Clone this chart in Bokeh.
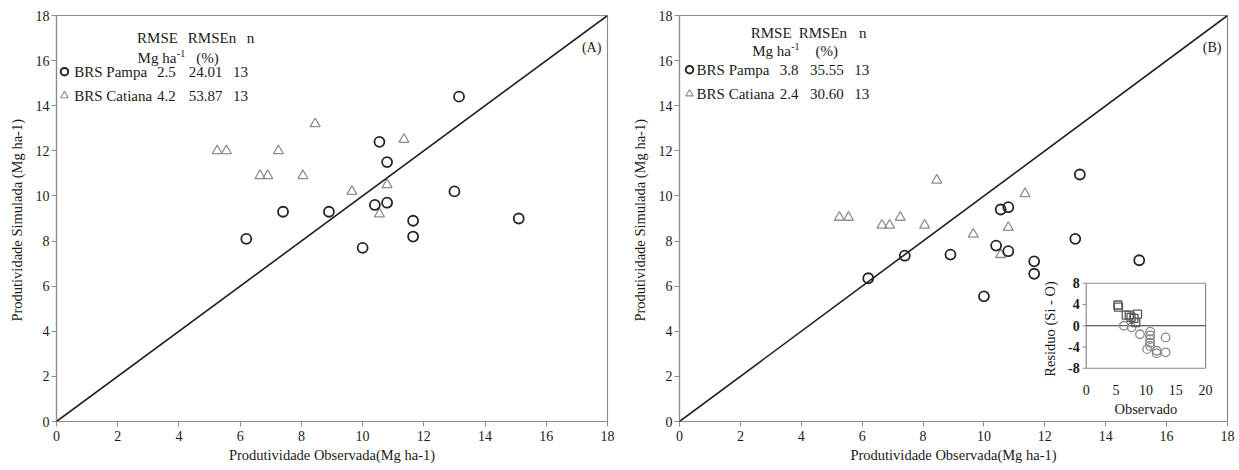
import math
from bokeh.plotting import figure
from bokeh.models import Range1d, FixedTicker, Label, Slope
from bokeh.layouts import row
from bokeh.core.properties import value
from bokeh.embed import file_html
from bokeh.resources import INLINE

# ---------------- data ----------------
axis_ticks = [0, 2, 4, 6, 8, 10, 12, 14, 16, 18]

pampa_obs = [6.2, 7.4, 8.9, 10.0, 10.4, 10.55, 10.8, 10.8, 11.65, 11.65, 13.0, 13.15, 15.1]
pampa_sim_a = [8.1, 9.3, 9.3, 7.7, 9.6, 12.4, 11.5, 9.7, 8.9, 8.2, 10.2, 14.4, 9.0]
pampa_sim_b = [6.35, 7.35, 7.4, 5.55, 7.8, 9.4, 9.5, 7.55, 7.1, 6.55, 8.1, 10.95, 7.15]

catiana_obs = [5.25, 5.55, 6.65, 6.9, 7.25, 8.05, 8.45, 9.65, 10.55, 10.8, 11.35]
catiana_sim_a = [12.0, 12.0, 10.9, 10.9, 12.0, 10.9, 13.2, 10.2, 9.2, 10.5, 12.5]
catiana_sim_b = [9.05, 9.05, 8.7, 8.7, 9.05, 8.7, 10.7, 8.3, 7.4, 8.6, 10.1]

# inset: residuals (Si - O) vs observed
res_obs_pam = [6.3, 7.6, 9.0, 10.2, 10.7, 10.7, 10.7, 10.7, 10.7, 11.8, 11.8, 13.3, 13.3]
res_pam = [0.0, -0.3, -1.6, -4.4, -1.1, -1.8, -2.5, -3.2, -3.8, -4.7, -5.2, -2.2, -5.0]
res_obs_cat = [5.3, 5.4, 6.7, 7.2, 7.5, 8.0, 8.6, 8.3]
res_cat = [3.9, 3.5, 2.0, 2.0, 1.6, 1.4, 2.2, 0.6]
inset_xticks = [0, 5, 10, 15, 20]
inset_yticks = [-8, -4, 0, 4, 8]

stats_a = {"BRS Pampa": ["2.5", "24.01", "13"], "BRS Catiana": ["4.2", "53.87", "13"]}
stats_b = {"BRS Pampa": ["3.8", "35.55", "13"], "BRS Catiana": ["2.4", "30.60", "13"]}

# ---------------- styles ----------------
FONT = "Liberation Serif"
TXT = "#1a1a1a"
AXC = "#8c8c8c"
CIRC = "#262626"
TRI = "#8f8f8f"
H = 468


def make_panel(width, left, right, sim_p, sim_c, tag, stats, lay):
    p = figure(width=width, height=H, output_backend="svg", toolbar_location=None,
               x_range=Range1d(0, 18), y_range=Range1d(0, 18),
               min_border_left=left, min_border_right=right,
               min_border_top=15, min_border_bottom=H - 421)
    p.background_fill_color = "white"
    p.border_fill_color = "white"
    p.outline_line_color = AXC
    p.outline_line_width = 1.2
    p.grid.visible = False
    for ax in (p.xaxis[0], p.yaxis[0]):
        ax.ticker = FixedTicker(ticks=axis_ticks)
        ax.axis_line_color = AXC
        ax.axis_line_width = 1.2
        ax.major_tick_line_color = AXC
        ax.major_tick_out = 5
        ax.major_tick_in = 0
        ax.minor_tick_line_color = None
        ax.major_label_text_font = FONT
        ax.major_label_text_font_size = "14px"
        ax.major_label_text_color = TXT
        ax.axis_label_text_font = FONT
        ax.axis_label_text_font_size = "14.5px"
        ax.axis_label_text_font_style = "normal"
        ax.axis_label_text_color = TXT
    p.xaxis.major_label_standoff = 4
    p.yaxis.major_label_standoff = 2
    p.xaxis.axis_label = "Produtividade Observada(Mg ha-1)"
    p.yaxis.axis_label = "Produtividade Simulada  (Mg ha-1)"
    p.xaxis.axis_label_standoff = 3
    p.yaxis.axis_label_standoff = 8

    p.add_layout(Slope(gradient=1, y_intercept=0, line_color="#1f1f1f", line_width=1.6))

    p.scatter(catiana_obs, sim_c, marker="triangle", size=10, fill_color=None,
              line_color=TRI, line_width=1.3)
    p.scatter(pampa_obs, sim_p, marker="circle", size=10, fill_color=None,
              line_color=CIRC, line_width=1.8)

    def lab(x, y, t, align="center", size="15px", color=TXT):
        p.add_layout(Label(x=x, y=y, text=t, text_align=align, text_baseline="middle",
                           text_font=FONT, text_font_size=size, text_color=color))

    # panel tag
    lab(17.8, lay["tag_y"], tag, align="right", size="14px")
    # legend header
    lab(lay["c1"], lay["h1"], "RMSE")
    lab(lay["c2"], lay["h1"], "RMSEn")
    lab(lay["c3h"], lay["h1"], "n")
    lab(lay["mg_x"], lay["h2"], "Mg ha", align="left")
    lab(lay["sup_x"], lay["h2"] + 0.2, "-1", align="left", size="10px")
    lab(lay["c2p"], lay["h2"], "(%)")
    # legend rows
    for name, yy, mk, col, lw in (("BRS Pampa", lay["r1"], "circle", CIRC, 2.0),
                                  ("BRS Catiana", lay["r2"], "triangle", TRI, 1.2)):
        p.scatter([lay["mx"]], [yy], marker=mk, size=7.5, fill_color=None,
                  line_color=col, line_width=lw)
        lab(lay["tx"], yy, name, align="left")
        v = stats[name]
        lab(lay["c1v"], yy, v[0])
        lab(lay["c2v"], yy, v[1])
        lab(lay["c3"], yy, v[2])
    return p


lay_a = dict(tag_y=16.6, c1=3.30, c2=5.08, c3h=6.34, mg_x=2.65, sup_x=3.93, c2p=4.93,
             h1=17.02, h2=16.13, r1=15.51, r2=14.45, mx=0.26, tx=0.58,
             c1v=3.59, c2v=4.87, c3=6.01)
lay_b = dict(tag_y=16.6, c1=3.01, c2=4.71, c3h=6.02, mg_x=2.39, sup_x=3.67, c2p=4.84,
             h1=17.24, h2=16.44, r1=15.6, r2=14.53, mx=0.33, tx=0.56,
             c1v=3.60, c2v=4.84, c3=5.99)

pA = make_panel(628, 56, 21, pampa_sim_a, catiana_sim_a, "(A)", stats_a, lay_a)
pB = make_panel(610, 49, 11, pampa_sim_b, catiana_sim_b, "(B)", stats_b, lay_b)

# ---------------- inset in panel B ----------------
sub = pB.subplot(x_source=Range1d(0, 20), y_source=Range1d(-8, 8),
                 x_target=Range1d(13.36, 17.28), y_target=Range1d(2.36, 6.13))
sub.quad(left=[0], right=[20], bottom=[-8], top=[8], fill_color="white",
         line_color=AXC, line_width=1.2)
sub.segment(x0=[0], y0=[0], x1=[20], y1=[0], line_color="#333333", line_width=1.2)
sub.segment(x0=[-0.6] * len(inset_yticks), y0=inset_yticks, x1=[0] * len(inset_yticks),
            y1=inset_yticks, line_color=AXC, line_width=1.2)
sub.scatter(res_obs_pam, res_pam, marker="circle", size=8.5, fill_color=None,
            line_color="#8a8a8a", line_width=1.3)
sub.scatter(res_obs_cat, res_cat, marker="square", size=8, fill_color=None,
            line_color="#5a5a5a", line_width=1.3)
sub.text(x=[-1.1] * len(inset_yticks), y=inset_yticks, text=[str(t) for t in inset_yticks],
         text_align="right", text_baseline="middle", text_font=value(FONT),
         text_font_size="14px", text_color=TXT, text_font_style="bold")
sub.text(x=inset_xticks, y=[-12.0] * len(inset_xticks), text=[str(t) for t in inset_xticks],
         text_align="center", text_baseline="middle", text_font=value(FONT),
         text_font_size="14px", text_color=TXT)
sub.text(x=[10], y=[-15.6], text=["Observado"], text_align="center", text_baseline="middle",
         text_font=value(FONT), text_font_size="14.5px", text_color=TXT)
sub.text(x=[-6.0], y=[-0.6], text=["Residuo (Si - O)"], angle=math.pi / 2,
         text_align="center", text_baseline="middle", text_font=value(FONT),
         text_font_size="14.5px", text_color=TXT)

layout = row(pA, pB)
open("out.html", "w").write(file_html(layout, INLINE))
